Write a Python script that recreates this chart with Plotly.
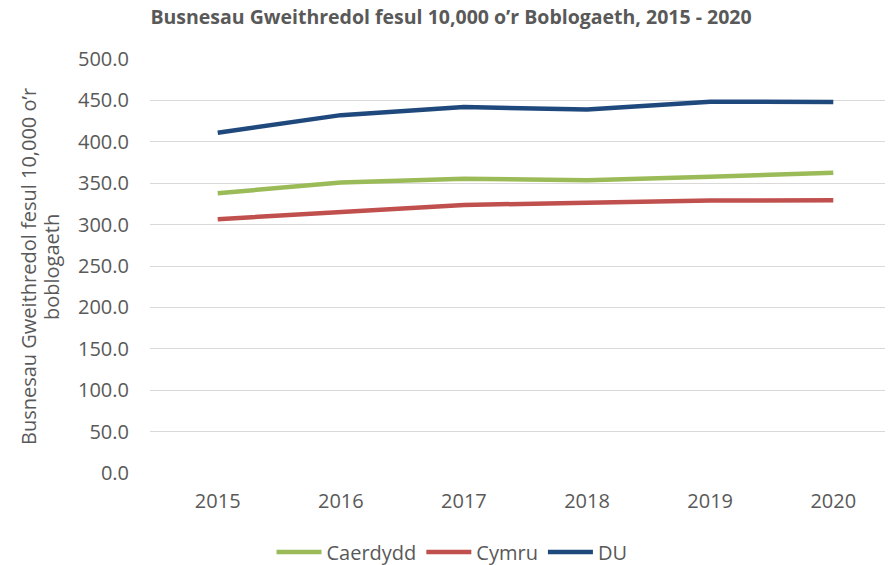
import plotly.graph_objects as go

years = ["2015", "2016", "2017", "2018", "2019", "2020"]
caerdydd = [337.9, 350.8, 355.3, 353.6, 357.7, 362.6]
cymru = [306.5, 315.7, 323.8, 326.3, 329.0, 329.5]
du = [410.9, 432.2, 441.9, 439.1, 448.4, 448.0]

y_ticks = [0, 50, 100, 150, 200, 250, 300, 350, 400, 450, 500]

FONT = "Open Sans"
TXT = "#595959"

L, R, T, B = 150, 3, 59, 92
PW, PH = 888 - L - R, 565 - T - B

fig = go.Figure()
for name, vals, col in [("Caerdydd", caerdydd, "#9BBB59"),
                        ("Cymru", cymru, "#C0504D"),
                        ("DU", du, "#1F497D")]:
    fig.add_trace(go.Scatter(x=years, y=vals, name=name, mode="lines",
                             line=dict(color=col, width=4.5)))

fig.update_layout(
    width=888, height=565,
    margin=dict(l=L, r=R, t=T, b=B, autoexpand=False),
    paper_bgcolor="white", plot_bgcolor="white",
    font=dict(family=FONT, color=TXT, size=20),
    title=dict(text="<b>Busnesau Gweithredol fesul 10,000 o’r Boblogaeth, 2015 - 2020</b>",
               x=451/888, xanchor="center", y=1-17/565, yanchor="middle",
               font=dict(family=FONT, size=19.5, color=TXT)),
    legend=dict(orientation="h", x=(452 - L)/PW, xanchor="center",
                y=-(552 - (T + PH))/PH, yanchor="middle",
                font=dict(size=20, color=TXT), itemwidth=45),
    showlegend=True,
)
fig.update_xaxes(type="category", range=[-0.55, 5.42], showgrid=False,
                 showline=False, zeroline=False, ticks="", automargin=False,
                 ticklabelstandoff=14, tickfont=dict(size=20, color=TXT))
fig.update_yaxes(range=[0, 500], tickvals=y_ticks,
                 ticktext=[f"{v:.1f}" for v in y_ticks],
                 showgrid=True, gridcolor="#D9D9D9", gridwidth=1,
                 zeroline=False, showline=False, ticks="", automargin=False,
                 ticklabelstandoff=20, tickfont=dict(size=20, color=TXT))
for txt, xpx in [("Busnesau Gweithredol fesul 10,000 o’r", 28), ("boblogaeth", 51)]:
    fig.add_annotation(text=txt, xref="paper", yref="paper",
                       x=-(L - xpx)/PW, y=(T + PH - 267)/PH,
                       xanchor="center", yanchor="middle", textangle=-90,
                       showarrow=False, font=dict(size=20, color=TXT))
fig.write_html("out.html", config={"displayModeBar": False},
               post_script="document.body.style.margin='0';")
